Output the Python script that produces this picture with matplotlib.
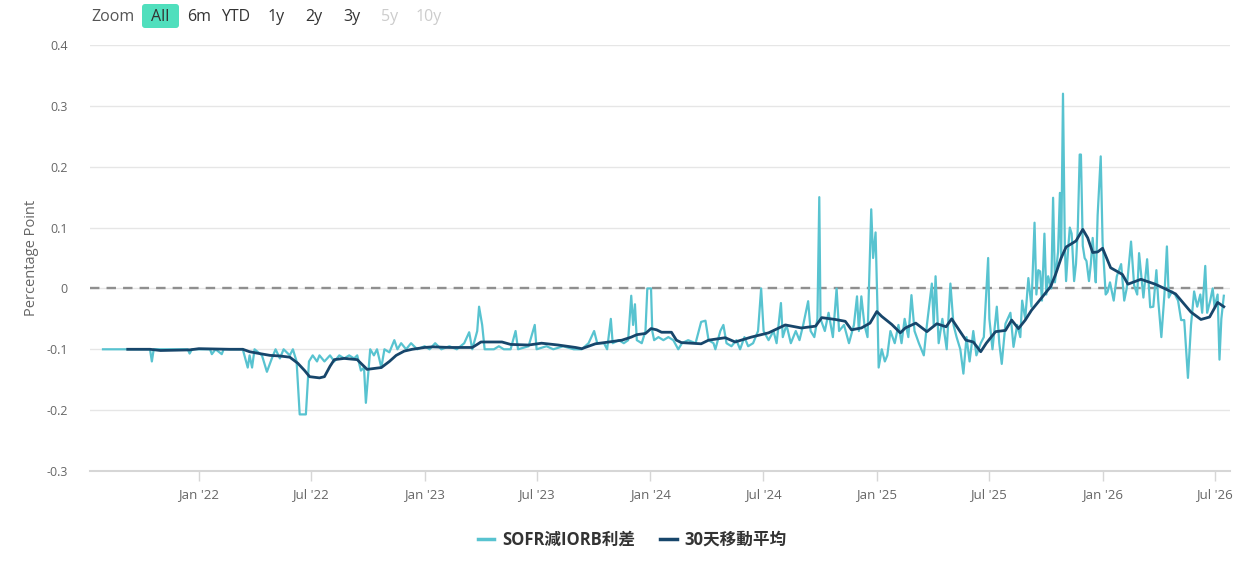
import matplotlib
matplotlib.use('Agg')
import matplotlib.pyplot as plt
import matplotlib.dates as mdates
import matplotlib.patches as mpatches
import pandas as pd

plt.rcParams['font.family'] = ['Open Sans', 'Noto Sans CJK TC', 'DejaVu Sans']
plt.rcParams['axes.unicode_minus'] = False

# SOFR minus IORB (percentage points)
spread_dates = [
    '2021-07-30', '2021-10-14', '2021-10-17', '2021-10-20', '2021-12-14', '2021-12-17', '2021-12-21',
    '2022-01-19', '2022-01-22', '2022-01-28', '2022-02-07', '2022-02-10', '2022-03-13', '2022-03-21',
    '2022-03-24', '2022-03-28', '2022-04-01', '2022-04-13', '2022-04-21', '2022-04-29', '2022-05-05',
    '2022-05-12', '2022-05-18', '2022-05-28', '2022-06-02', '2022-06-08', '2022-06-13', '2022-06-23',
    '2022-06-28', '2022-07-04', '2022-07-11', '2022-07-15', '2022-07-23', '2022-08-01', '2022-08-08',
    '2022-08-16', '2022-08-24', '2022-09-01', '2022-09-09', '2022-09-14', '2022-09-20', '2022-09-25',
    '2022-09-28', '2022-10-01', '2022-10-05', '2022-10-11', '2022-10-16', '2022-10-23', '2022-10-28',
    '2022-11-05', '2022-11-13', '2022-11-18', '2022-11-24', '2022-12-02', '2022-12-10', '2022-12-20',
    '2023-01-01', '2023-01-09', '2023-01-18', '2023-01-28', '2023-02-10', '2023-02-22', '2023-03-06',
    '2023-03-14', '2023-03-19', '2023-03-27', '2023-03-30', '2023-04-04', '2023-04-08', '2023-04-23',
    '2023-05-01', '2023-05-09', '2023-05-20', '2023-05-28', '2023-06-01', '2023-06-18', '2023-06-28',
    '2023-07-01', '2023-07-17', '2023-07-28', '2023-08-13', '2023-08-30', '2023-09-12', '2023-09-23',
    '2023-10-02', '2023-10-07', '2023-10-18', '2023-10-23', '2023-10-29', '2023-11-01', '2023-11-11',
    '2023-11-19', '2023-11-26', '2023-12-01', '2023-12-04', '2023-12-07', '2023-12-10', '2023-12-18',
    '2023-12-24', '2023-12-27', '2024-01-02', '2024-01-04', '2024-01-07', '2024-01-14', '2024-01-22',
    '2024-01-30', '2024-02-07', '2024-02-15', '2024-02-21', '2024-03-02', '2024-03-14', '2024-03-23',
    '2024-03-30', '2024-04-04', '2024-04-12', '2024-04-15', '2024-04-23', '2024-04-28', '2024-05-03',
    '2024-05-11', '2024-05-19', '2024-05-25', '2024-06-01', '2024-06-07', '2024-06-15', '2024-06-23',
    '2024-06-28', '2024-07-02', '2024-07-10', '2024-07-18', '2024-07-23', '2024-07-30', '2024-08-02',
    '2024-08-08', '2024-08-15', '2024-08-23', '2024-08-29', '2024-09-04', '2024-09-12', '2024-09-16',
    '2024-09-22', '2024-09-27', '2024-09-30', '2024-10-02', '2024-10-09', '2024-10-15', '2024-10-22',
    '2024-10-28', '2024-11-01', '2024-11-09', '2024-11-17', '2024-11-25', '2024-11-30', '2024-12-03',
    '2024-12-07', '2024-12-12', '2024-12-17', '2024-12-23', '2024-12-26', '2024-12-30', '2025-01-02',
    '2025-01-04', '2025-01-09', '2025-01-14', '2025-01-18', '2025-01-23', '2025-01-30', '2025-02-05',
    '2025-02-10', '2025-02-15', '2025-02-21', '2025-02-26', '2025-03-03', '2025-03-10', '2025-03-18',
    '2025-03-23', '2025-03-31', '2025-04-03', '2025-04-06', '2025-04-11', '2025-04-17', '2025-04-24',
    '2025-04-30', '2025-05-05', '2025-05-10', '2025-05-16', '2025-05-21', '2025-05-26', '2025-05-31',
    '2025-06-06', '2025-06-11', '2025-06-18', '2025-06-23', '2025-06-30', '2025-07-02', '2025-07-07',
    '2025-07-14', '2025-07-18', '2025-07-22', '2025-07-28', '2025-08-05', '2025-08-10', '2025-08-16',
    '2025-08-21', '2025-08-24', '2025-08-29', '2025-09-03', '2025-09-08', '2025-09-13', '2025-09-16',
    '2025-09-19', '2025-09-22', '2025-09-25', '2025-09-29', '2025-10-02', '2025-10-05', '2025-10-10',
    '2025-10-13', '2025-10-16', '2025-10-21', '2025-10-24', '2025-10-26', '2025-10-29', '2025-11-01',
    '2025-11-03', '2025-11-06', '2025-11-09', '2025-11-12', '2025-11-16', '2025-11-19', '2025-11-22',
    '2025-11-25', '2025-11-27', '2025-11-30', '2025-12-03', '2025-12-06', '2025-12-10', '2025-12-13',
    '2025-12-16', '2025-12-19', '2025-12-21', '2025-12-24', '2025-12-29', '2026-01-01', '2026-01-06',
    '2026-01-09', '2026-01-13', '2026-01-19', '2026-01-24', '2026-01-31', '2026-02-05', '2026-02-09',
    '2026-02-16', '2026-02-21', '2026-02-26', '2026-03-01', '2026-03-08', '2026-03-14', '2026-03-19',
    '2026-03-24', '2026-03-29', '2026-04-01', '2026-04-06', '2026-04-11', '2026-04-15', '2026-04-18',
    '2026-04-23', '2026-04-28', '2026-05-03', '2026-05-08', '2026-05-13', '2026-05-16', '2026-05-19',
    '2026-05-24', '2026-05-29', '2026-06-03', '2026-06-08', '2026-06-11', '2026-06-16', '2026-06-19',
    '2026-06-24', '2026-06-28', '2026-07-01', '2026-07-06', '2026-07-09', '2026-07-12', '2026-07-16',
]
spread_vals = [
    -0.100, -0.100, -0.120, -0.100, -0.100, -0.107, -0.100,
    -0.100, -0.108, -0.100, -0.108, -0.100, -0.100, -0.130,
    -0.110, -0.130, -0.100, -0.110, -0.137, -0.115, -0.100,
    -0.115, -0.100, -0.110, -0.100, -0.120, -0.207, -0.207,
    -0.120, -0.110, -0.120, -0.110, -0.120, -0.110, -0.120,
    -0.110, -0.115, -0.110, -0.115, -0.110, -0.135, -0.130,
    -0.188, -0.150, -0.100, -0.110, -0.100, -0.130, -0.100,
    -0.105, -0.085, -0.100, -0.090, -0.100, -0.090, -0.100,
    -0.095, -0.100, -0.090, -0.100, -0.095, -0.100, -0.090,
    -0.072, -0.100, -0.070, -0.030, -0.060, -0.100, -0.100,
    -0.095, -0.100, -0.100, -0.070, -0.100, -0.095, -0.060,
    -0.100, -0.095, -0.100, -0.095, -0.100, -0.100, -0.090,
    -0.070, -0.090, -0.090, -0.100, -0.050, -0.090, -0.085,
    -0.090, -0.085, -0.012, -0.060, -0.026, -0.085, -0.090,
    -0.070, 0.000, 0.000, -0.070, -0.085, -0.080, -0.085,
    -0.080, -0.085, -0.100, -0.090, -0.085, -0.090, -0.055,
    -0.053, -0.085, -0.090, -0.100, -0.070, -0.060, -0.090,
    -0.095, -0.085, -0.100, -0.080, -0.095, -0.090, -0.070,
    0.000, -0.070, -0.085, -0.070, -0.090, -0.024, -0.080,
    -0.060, -0.090, -0.070, -0.085, -0.060, -0.021, -0.070,
    -0.080, -0.050, 0.150, -0.050, -0.070, -0.040, -0.080,
    0.000, -0.070, -0.060, -0.090, -0.060, -0.013, -0.070,
    -0.013, -0.060, -0.080, 0.130, 0.050, 0.092, -0.030,
    -0.130, -0.100, -0.120, -0.110, -0.070, -0.090, -0.060,
    -0.090, -0.050, -0.080, -0.011, -0.070, -0.090, -0.110,
    -0.060, 0.008, -0.060, 0.020, -0.090, -0.050, -0.100,
    0.008, -0.060, -0.080, -0.100, -0.140, -0.080, -0.120,
    -0.070, -0.110, -0.090, -0.080, 0.050, -0.050, -0.100,
    -0.030, -0.090, -0.124, -0.058, -0.040, -0.096, -0.060,
    -0.080, -0.020, -0.050, 0.017, -0.030, 0.108, -0.010,
    0.030, 0.028, -0.020, 0.090, -0.010, 0.020, 0.000,
    0.149, 0.010, 0.060, 0.157, 0.050, 0.320, 0.068,
    0.012, 0.060, 0.100, 0.090, 0.012, 0.040, 0.100,
    0.220, 0.220, 0.070, 0.050, 0.045, 0.012, 0.040,
    0.083, 0.035, 0.010, 0.120, 0.217, 0.077, -0.010,
    -0.006, 0.010, -0.020, 0.020, 0.040, -0.020, 0.000,
    0.077, 0.005, -0.010, 0.058, -0.015, 0.048, -0.031,
    -0.030, 0.030, -0.020, -0.080, -0.010, 0.069, -0.015,
    -0.005, -0.010, -0.020, -0.052, -0.052, -0.100, -0.147,
    -0.060, -0.005, -0.030, -0.010, -0.040, 0.037, -0.040,
    -0.020, 0.000, -0.030, -0.010, -0.117, -0.050, -0.012,
]

# 30-day moving average
ma_dates = [
    '2021-09-08', '2021-10-14', '2021-10-31', '2021-12-17', '2022-01-01', '2022-02-20', '2022-03-13',
    '2022-03-24', '2022-04-09', '2022-04-26', '2022-05-12', '2022-05-28', '2022-06-10', '2022-06-21',
    '2022-06-29', '2022-07-15', '2022-07-23', '2022-08-01', '2022-08-08', '2022-08-24', '2022-09-14',
    '2022-09-22', '2022-09-30', '2022-10-23', '2022-11-05', '2022-11-16', '2022-11-29', '2022-12-12',
    '2023-01-01', '2023-01-14', '2023-02-10', '2023-03-19', '2023-03-27', '2023-04-02', '2023-05-06',
    '2023-05-20', '2023-06-18', '2023-07-09', '2023-08-05', '2023-09-02', '2023-09-12', '2023-10-04',
    '2023-10-26', '2023-11-16', '2023-12-01', '2023-12-10', '2023-12-24', '2024-01-02', '2024-01-11',
    '2024-01-19', '2024-02-04', '2024-02-12', '2024-02-20', '2024-03-23', '2024-04-04', '2024-05-01',
    '2024-05-17', '2024-06-12', '2024-07-10', '2024-08-06', '2024-09-01', '2024-09-24', '2024-10-04',
    '2024-10-26', '2024-11-11', '2024-11-21', '2024-12-07', '2024-12-21', '2025-01-01', '2025-01-09',
    '2025-01-25', '2025-02-08', '2025-02-16', '2025-03-05', '2025-03-23', '2025-04-08', '2025-04-23',
    '2025-05-02', '2025-05-25', '2025-06-06', '2025-06-18', '2025-06-27', '2025-07-12', '2025-07-28',
    '2025-08-07', '2025-08-18', '2025-08-29', '2025-09-08', '2025-09-24', '2025-10-09', '2025-10-17',
    '2025-10-26', '2025-11-03', '2025-11-19', '2025-11-30', '2025-12-08', '2025-12-16', '2025-12-24',
    '2026-01-01', '2026-01-14', '2026-02-02', '2026-02-11', '2026-03-04', '2026-03-27', '2026-04-13',
    '2026-04-29', '2026-05-24', '2026-06-09', '2026-06-23', '2026-07-06', '2026-07-16',
]
ma_vals = [
    -0.100, -0.100, -0.102, -0.101, -0.099, -0.100, -0.100,
    -0.104, -0.107, -0.110, -0.111, -0.113, -0.123, -0.135,
    -0.145, -0.147, -0.145, -0.128, -0.117, -0.115, -0.117,
    -0.125, -0.133, -0.130, -0.120, -0.110, -0.103, -0.100,
    -0.097, -0.096, -0.097, -0.097, -0.092, -0.088, -0.088,
    -0.092, -0.093, -0.090, -0.093, -0.097, -0.099, -0.091,
    -0.088, -0.085, -0.080, -0.076, -0.074, -0.066, -0.068,
    -0.072, -0.072, -0.085, -0.089, -0.091, -0.085, -0.081,
    -0.088, -0.080, -0.073, -0.060, -0.065, -0.062, -0.048,
    -0.051, -0.054, -0.068, -0.065, -0.057, -0.038, -0.046,
    -0.059, -0.073, -0.065, -0.057, -0.071, -0.058, -0.063,
    -0.050, -0.085, -0.088, -0.104, -0.090, -0.071, -0.069,
    -0.052, -0.066, -0.052, -0.036, -0.016, 0.003, 0.023,
    0.050, 0.068, 0.078, 0.097, 0.083, 0.059, 0.060,
    0.066, 0.034, 0.023, 0.007, 0.015, 0.007, -0.001,
    -0.009, -0.039, -0.051, -0.047, -0.023, -0.030,
]

y_ticks = [-0.3, -0.2, -0.1, 0.0, 0.1, 0.2, 0.3, 0.4]
zoom_buttons = ['All', '6m', 'YTD', '1y', '2y', '3y', '5y', '10y']

CYAN = '#58c3d0'
NAVY = '#17466b'
W, H = 1258, 564

fig = plt.figure(figsize=(W / 100, H / 100), dpi=100)
ax = fig.add_axes([90 / W, 1 - 471 / H, 1140 / W, 426 / H])

# lines
ax.plot(pd.to_datetime(spread_dates), spread_vals, color=CYAN, lw=1.6,
        label='SOFR減IORB利差', zorder=3)
ax.plot(pd.to_datetime(ma_dates), ma_vals, color=NAVY, lw=2.0,
        label='30天移動平均', zorder=4)

# zero reference line
ax.axhline(0, color='#8f8f8f', lw=1.7, ls=(0, (4, 3)), zorder=2)

ax.set_ylim(-0.3, 0.4)
ax.set_xlim(pd.Timestamp('2021-07-09'), pd.Timestamp('2026-07-26'))
ax.set_yticks(y_ticks)
ax.set_yticklabels([f'{v:g}' for v in y_ticks])
ax.grid(axis='y', color='#e6e6e6', lw=1, zorder=0)
ax.set_axisbelow(True)

ax.xaxis.set_major_locator(mdates.MonthLocator(bymonth=[1, 7]))
ax.xaxis.set_major_formatter(mdates.DateFormatter("%b '%y"))

for side in ['top', 'right', 'left']:
    ax.spines[side].set_visible(False)
ax.spines['bottom'].set_color('#d6d6d6')
ax.spines['bottom'].set_linewidth(1.5)

ax.tick_params(axis='y', length=0, labelsize=9, labelcolor='#666666', pad=16)
ax.tick_params(axis='x', length=7, width=1, color='#d6d6d6', labelsize=9.5,
               labelcolor='#666666', pad=5)

ax.set_ylabel('Percentage Point', fontsize=10.5, color='#666666')
ax.yaxis.set_label_coords(-(90 - 39) / 1140, 0.5)

# legend
leg = fig.legend(loc='center', bbox_to_anchor=(632 / W, 1 - 540 / H), ncol=2,
                 frameon=False, handlelength=1.0, handletextpad=0.45,
                 columnspacing=1.5, prop={'size': 12, 'weight': 'bold'})
for t in leg.get_texts():
    t.set_color('#333333')
for h in leg.get_lines():
    h.set_linewidth(2.5)

# range selector row at top
fig.text(91 / W, 1 - 17 / H, 'Zoom', fontsize=11.5, color='#555555',
         ha='left', va='center')
btn_x = [160, 199, 236, 276, 314, 352, 390, 429]
for label, bx in zip(zoom_buttons, btn_x):
    col = '#cccccc' if label in ('5y', '10y') else '#333333'
    fig.text(bx / W, 1 - 17 / H, label, fontsize=11.5, color=col,
             ha='center', va='center', zorder=5)
box = mpatches.FancyBboxPatch((1.42, (H - 28) / 100), 0.37, 0.24,
                              boxstyle='round,pad=0,rounding_size=0.03',
                              transform=fig.dpi_scale_trans,
                              facecolor='#50dfbd', edgecolor='none', zorder=1)
fig.patches.append(box)

fig.savefig('out.png', dpi=100)
